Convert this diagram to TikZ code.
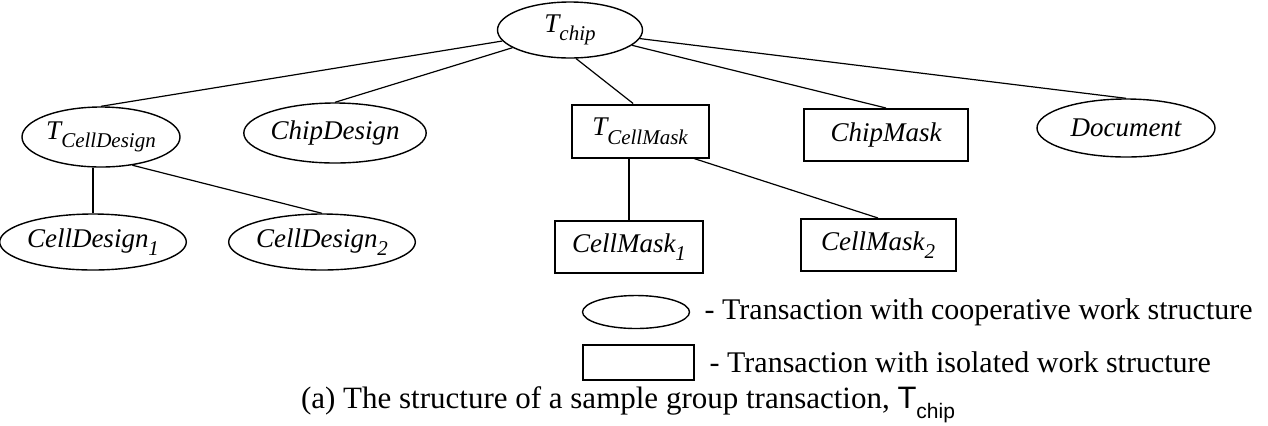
\documentclass[tikz,border=0pt]{standalone}
\usepackage{fontspec}
\setmainfont{Liberation Serif}
\setsansfont{Liberation Sans}
\usetikzlibrary{shapes.geometric,positioning,calc}
\newcommand\lo[1]{\raisebox{-0.32em}{\fontsize{10.5}{10.5}\selectfont #1}}
\tikzset{
  every node/.style={font=\fontsize{13.5}{15}\selectfont\itshape},
  ell/.style={draw, ellipse, inner sep=0pt, line width=0.7pt},
  box/.style={draw, rectangle, inner sep=0pt, line width=1pt},
  conn/.style={line width=0.6pt},
  legtext/.style={font=\fontsize{15}{17}\selectfont\upshape, inner sep=0pt}
}
\begin{document}
\begin{tikzpicture}[x=0.5pt,y=-0.5pt]
\useasboundingbox (0,0) rectangle (1268,425);
% level 0
\node[ell, minimum width=72.5pt, minimum height=28pt] (tchip) at (570,30) {T\lo{chip}};
% level 1
\node[ell, minimum width=79pt, minimum height=30pt] (tcd) at (101,137) {T\lo{CellDesign}};
\node[ell, minimum width=85pt, minimum height=30pt] (chipd) at (335,133) {ChipDesign};
\node[box, minimum width=68.5pt, minimum height=26.5pt] (tcm) at (640,131) {T\lo{CellMask}};
\node[box, minimum width=82pt, minimum height=26pt] (chipm) at (886,135) {ChipMask};
\node[ell, minimum width=89pt, minimum height=29pt] (doc) at (1126,128) {Document};
% level 2
\node[ell, minimum width=83pt, minimum height=28pt] (cd1) at (93,242) {CellDesign\lo{1}};
\node[ell, minimum width=78pt, minimum height=28pt] (cd2) at (322,242) {CellDesign\lo{2}};
\node[box, minimum width=74pt, minimum height=26pt] (cm1) at (629,247) {CellMask\lo{1}};
\node[box, minimum width=77.5pt, minimum height=26pt] (cm2) at (878,245) {CellMask\lo{2}};
% connectors
\draw[conn] (tchip) -- (tcd.north);
\draw[conn] (tchip) -- (chipd.north);
\draw[conn] (tchip.-78) -- (tcm.104);
\draw[conn] (tchip) -- (chipm.north);
\draw[conn] (tchip) -- (doc.north);
\draw[conn] (cd1.north) -- (cd1.north |- tcd.south);
\draw[conn] (tcd.-42) -- (cd2.north);
\draw[conn] (cm1.north) -- (cm1.north |- tcm.south);
\draw[conn] (tcm.-27) -- (cm2.north);
% legend
\node[legtext, anchor=east] (lt1) at (1253,312) {- Transaction with cooperative work structure};
\node[ell, minimum width=53.5pt, minimum height=16.5pt] (le) at (636,312) {};
\node[legtext, anchor=west] (lt2) at ($(lt1.west)+(5,50)$) {- Transaction with isolated work structure};
\node[box, minimum width=55.5pt, minimum height=17.5pt] (lr) at (638,362) {};
% caption
\node[font=\fontsize{15.5}{17}\selectfont\upshape, inner sep=0pt] (cap) at (628,405)
  {(a) The structure of a sample group transaction, {\sffamily T\lo{\sffamily chip}}};
\end{tikzpicture}
\end{document}
